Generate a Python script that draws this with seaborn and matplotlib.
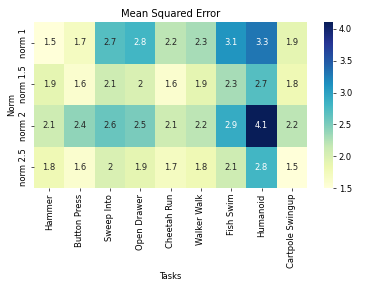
import matplotlib
matplotlib.use("Agg")
import matplotlib.pyplot as plt
import pandas as pd
import seaborn as sns

tasks = ["Hammer", "Button Press", "Sweep Into", "Open Drawer", "Cheetah Run",
         "Walker Walk", "Fish Swim", "Humanoid", "Cartpole Swingup"]
norms = ["norm 1", "norm 1.5", "norm 2", "norm 2.5"]

mse_norm1 = [1.5, 1.7, 2.7, 2.8, 2.2, 2.3, 3.1, 3.3, 1.9]
mse_norm15 = [1.9, 1.6, 2.1, 2.0, 1.6, 1.9, 2.3, 2.7, 1.8]
mse_norm2 = [2.1, 2.4, 2.6, 2.5, 2.1, 2.2, 2.9, 4.11, 2.2]
mse_norm25 = [1.8, 1.6, 2.0, 1.9, 1.7, 1.8, 2.1, 2.8, 1.5]

df = pd.DataFrame([mse_norm1, mse_norm15, mse_norm2, mse_norm25],
                  index=pd.Index(norms, name="Norm"),
                  columns=pd.Index(tasks, name="Tasks"))

fig = plt.figure(figsize=(6.4, 4.8), dpi=60)
ax = fig.add_axes([34 / 384, 1 - 188 / 288, (307 - 34) / 384, (188 - 22) / 288])
cax = fig.add_axes([324 / 384, 1 - 188 / 288, 9 / 384, (188 - 22) / 288])

sns.heatmap(df, ax=ax, cbar_ax=cax, cmap="YlGnBu", annot=True, fmt=".2g")
ax.set_title("Mean Squared Error")

fig.savefig("out.png", dpi=60)
